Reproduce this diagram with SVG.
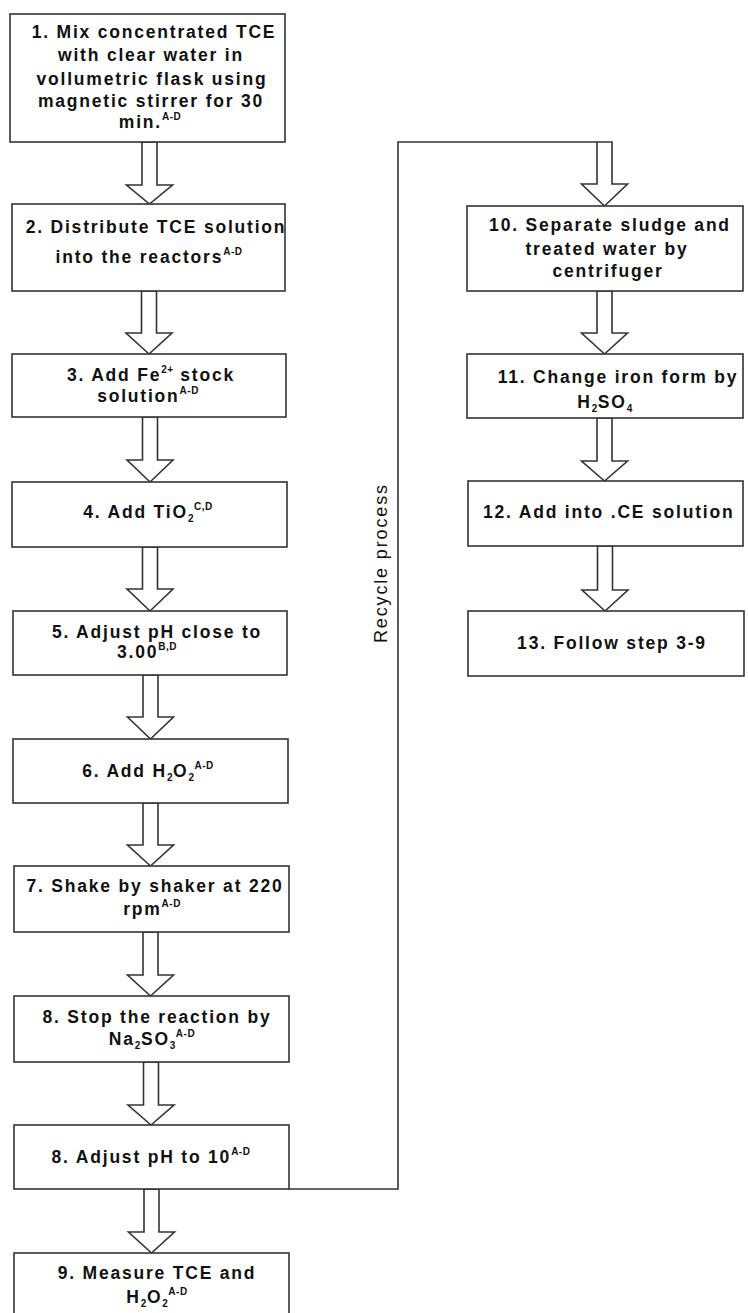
<svg xmlns="http://www.w3.org/2000/svg" width="748" height="1313" viewBox="0 0 748 1313">
<style>
.box{fill:#fff;stroke:#333;stroke-width:1.6}
.arr{fill:#fff;stroke:#333;stroke-width:1.6;stroke-linejoin:miter}
.ln{fill:none;stroke:#333;stroke-width:1.6}
.t{font-family:"Liberation Sans",Arial,sans-serif;font-weight:bold;font-size:17.5px;letter-spacing:1.8px;fill:#111;text-anchor:middle}
.ts{text-anchor:start}
.sup{font-size:10px;letter-spacing:0.5px}
.sub{font-size:10px;letter-spacing:0.5px}
.rp{font-family:"Liberation Sans",Arial,sans-serif;font-size:18px;fill:#111;text-anchor:middle}
</style>
<rect width="748" height="1313" fill="#fff"/>
<g id="connectors">
<polygon class="arr" points="142,142 157,142 157,185 172.5,185 149.5,204 126.5,185 142,185"/>
<polygon class="arr" points="141.5,291 156.5,291 156.5,333 172,333 149,354 126,333 141.5,333"/>
<polygon class="arr" points="142.5,417 157.5,417 157.5,460 173,460 150,482 127,460 142.5,460"/>
<polygon class="arr" points="142.5,547 157.5,547 157.5,589 173,589 150,611 127,589 142.5,589"/>
<polygon class="arr" points="143,675 158,675 158,717 173.5,717 150.5,739 127.5,717 143,717"/>
<polygon class="arr" points="143,803 158,803 158,845 173.5,845 150.5,866 127.5,845 143,845"/>
<polygon class="arr" points="143,932 158,932 158,975 173.5,975 150.5,996 127.5,975 143,975"/>
<polygon class="arr" points="143.5,1062 158.5,1062 158.5,1105 174,1105 151,1125 128,1105 143.5,1105"/>
<polygon class="arr" points="144,1189 159,1189 159,1232 174.5,1232 151.5,1253 128.5,1232 144,1232"/>
<path class="ln" d="M289,1189 H398 V142 H597"/>
<polygon class="arr" points="597,142 612,142 612,184 627.5,184 604.5,206 581.5,184 597,184"/>
<polygon class="arr" points="597,291 612,291 612,333 627.5,333 604.5,354 581.5,333 597,333"/>
<polygon class="arr" points="597,418 612,418 612,461 627.5,461 604.5,481 581.5,461 597,461"/>
<polygon class="arr" points="597.5,546 612.5,546 612.5,590 628,590 605,611 582,590 597.5,590"/>
<text class="rp" transform="translate(387,564) rotate(-90)" textLength="158" lengthAdjust="spacing">Recycle process</text>
</g>
<g id="n1">
<rect class="box" x="10" y="14" width="275" height="128"/>
<text class="t" x="154" y="38">1. Mix concentrated TCE</text>
<text class="t" x="151" y="61">with clear water in</text>
<text class="t" x="152" y="85">vollumetric flask using</text>
<text class="t" x="151" y="107">magnetic stirrer for 30</text>
<text class="t" x="150" y="128">min.<tspan class="sup" dy="-8">A-D</tspan></text>
</g>
<g id="n2">
<rect class="box" x="12" y="204" width="273" height="87"/>
<text class="t" x="156" y="233">2. Distribute TCE solution</text>
<text class="t" x="149" y="263">into the reactors<tspan class="sup" dy="-8">A-D</tspan></text>
</g>
<g id="n3">
<rect class="box" x="12" y="354" width="274" height="63"/>
<text class="t" x="151" y="381">3. Add Fe<tspan class="sup" dy="-8">2+</tspan><tspan dy="8"> stock</tspan></text>
<text class="t" x="148" y="402">solution<tspan class="sup" dy="-8">A-D</tspan></text>
</g>
<g id="n4">
<rect class="box" x="12" y="482" width="275" height="65"/>
<text class="t" x="148" y="518">4. Add TiO<tspan class="sub" dy="4">2</tspan><tspan class="sup" dy="-12">C,D</tspan></text>
</g>
<g id="n5">
<rect class="box" x="13" y="611" width="274" height="64"/>
<text class="t" x="157" y="638">5. Adjust pH close to</text>
<text class="t" x="147" y="658">3.00<tspan class="sup" dy="-8">B,D</tspan></text>
</g>
<g id="n6">
<rect class="box" x="13" y="739" width="275" height="64"/>
<text class="t" x="148" y="777">6. Add H<tspan class="sub" dy="4">2</tspan><tspan dy="-4">O</tspan><tspan class="sub" dy="4">2</tspan><tspan class="sup" dy="-12">A-D</tspan></text>
</g>
<g id="n7">
<rect class="box" x="14" y="866" width="275" height="66"/>
<text class="t" x="155" y="892">7. Shake by shaker at 220</text>
<text class="t" x="152" y="915">rpm<tspan class="sup" dy="-8">A-D</tspan></text>
</g>
<g id="n8">
<rect class="box" x="14" y="996" width="275" height="66"/>
<text class="t" x="157" y="1023">8. Stop the reaction by</text>
<text class="t" x="152" y="1045">Na<tspan class="sub" dy="4">2</tspan><tspan dy="-4">SO</tspan><tspan class="sub" dy="4">3</tspan><tspan class="sup" dy="-12">A-D</tspan></text>
</g>
<g id="n8b">
<rect class="box" x="14" y="1125" width="275" height="64"/>
<text class="t" x="151" y="1163">8. Adjust pH to 10<tspan class="sup" dy="-8">A-D</tspan></text>
</g>
<g id="n9">
<rect class="box" x="14" y="1253" width="275" height="72"/>
<text class="t" x="157" y="1279">9. Measure TCE and</text>
<text class="t" x="157" y="1303">H<tspan class="sub" dy="4">2</tspan><tspan dy="-4">O</tspan><tspan class="sub" dy="4">2</tspan><tspan class="sup" dy="-12">A-D</tspan></text>
</g>
<g id="n10">
<rect class="box" x="467" y="206" width="276" height="85"/>
<text class="t" x="610" y="231">10. Separate sludge and</text>
<text class="t" x="607" y="255">treated water by</text>
<text class="t" x="608" y="277">centrifuger</text>
</g>
<g id="n11">
<rect class="box" x="467" y="354" width="276" height="64"/>
<text class="t" x="618" y="383">11. Change iron form by</text>
<text class="t" x="605" y="408">H<tspan class="sub" dy="4">2</tspan><tspan dy="-4">SO</tspan><tspan class="sub" dy="4">4</tspan></text>
</g>
<g id="n12">
<rect class="box" x="468" y="481" width="275" height="65"/>
<text class="t ts" x="483" y="518">12. Add into .CE solution</text>
</g>
<g id="n13">
<rect class="box" x="468" y="611" width="276" height="65"/>
<text class="t" x="612" y="649">13. Follow step 3-9</text>
</g>
</svg>
